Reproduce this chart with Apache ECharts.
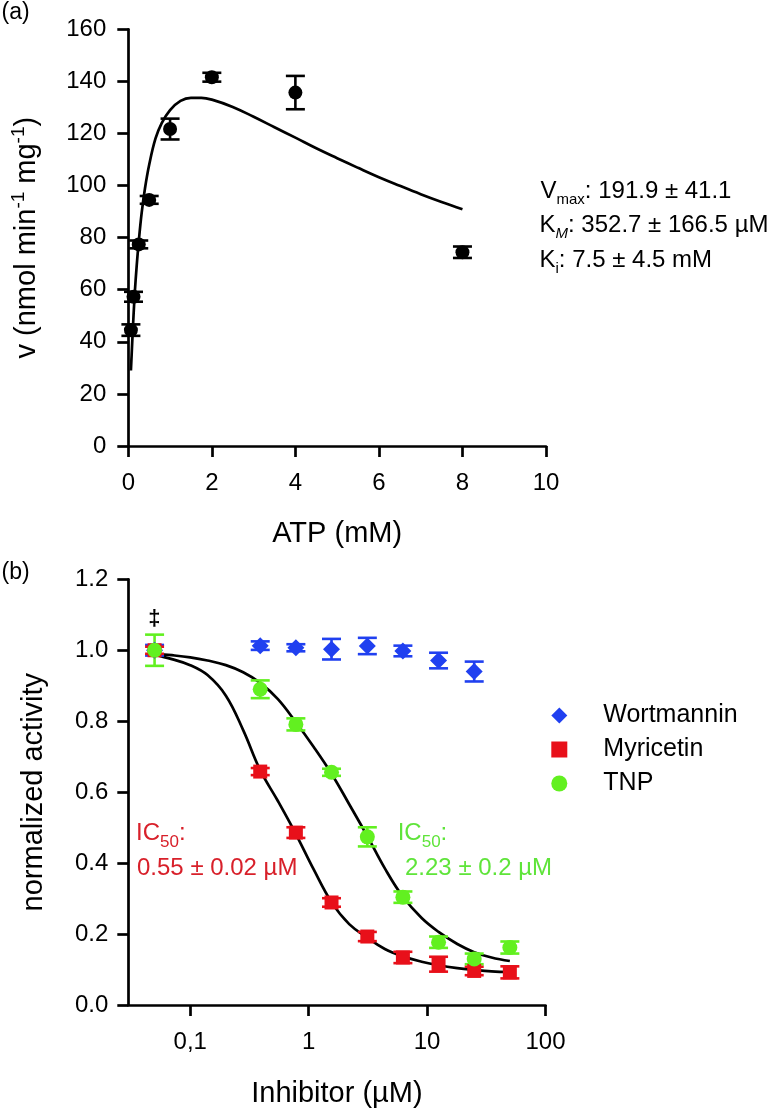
<!DOCTYPE html>
<html><head><meta charset="utf-8">
<script src="https://cdn.jsdelivr.net/npm/echarts@6/dist/echarts.min.js"></script>
<style>html,body{margin:0;padding:0;background:#fff}#c{width:774px;height:1113px}</style>
</head><body><div id="c"></div>
<script>
// ---------- Panel (a): ATP dependence ----------
const atp      = [0.0625, 0.125, 0.25, 0.5, 1, 2, 4, 8];
const rate     = [44.5, 57.3, 77.4, 94.5, 121.7, 141.6, 135.7, 74.4];
const rateErr  = [2.2, 1.9, 1.5, 1.5, 4.0, 1.7, 6.4, 2.2];
const fitAtp   = [0.0625, 0.08, 0.1, 0.125, 0.16, 0.2, 0.25, 0.32, 0.4, 0.5, 0.65, 0.8, 1.0, 1.25, 1.5, 1.75, 2.0, 2.5, 3, 3.5, 4, 4.5, 5, 5.5, 6, 6.5, 7, 7.5, 8];
const fitRate  = [29, 35, 42, 50, 60, 69, 78.5, 89.5, 99, 108, 118, 124, 129, 132.5, 133.7, 133.7, 133, 130.2, 126.4, 122.4, 118.4, 114.3, 110.5, 106.8, 103.2, 99.9, 96.7, 93.7, 90.9];
const xTicksA  = [0, 2, 4, 6, 8, 10];
const yTicksA  = [0, 20, 40, 60, 80, 100, 120, 140, 160];

// ---------- Panel (b): inhibitors ----------
const inhibitor   = [0.05, 0.39, 0.78, 1.56, 3.13, 6.25, 12.5, 25, 50];
const wortmannin  = [1.0, 1.013, 1.007, 1.003, 1.012, 0.998, 0.971, 0.94];
const wortErr     = [0.015, 0.012, 0.01, 0.029, 0.023, 0.015, 0.022, 0.028];
const myricetin   = [1.0, 0.658, 0.486, 0.289, 0.193, 0.134, 0.115, 0.096, 0.092];
const myrErr      = [0.01, 0.01, 0.015, 0.012, 0.013, 0.016, 0.021, 0.012, 0.017];
const tnp         = [1.0, 0.89, 0.791, 0.656, 0.474, 0.304, 0.177, 0.130, 0.162];
const tnpErr      = [0.044, 0.025, 0.017, 0.01, 0.027, 0.016, 0.016, 0.015, 0.017];
const fitX        = [0.05, 0.07, 0.1, 0.14, 0.2, 0.28, 0.39, 0.55, 0.78, 1.1, 1.56, 2.2, 3.13, 4.4, 6.25, 9, 12.5, 18, 25, 35, 50];
const fitMyr      = [0.987, 0.975, 0.958, 0.93, 0.872, 0.775, 0.662, 0.575, 0.482, 0.383, 0.29, 0.228, 0.19, 0.158, 0.137, 0.122, 0.112, 0.104, 0.099, 0.095, 0.093];
const fitTnp      = [0.99, 0.986, 0.98, 0.971, 0.958, 0.938, 0.908, 0.862, 0.797, 0.728, 0.652, 0.566, 0.476, 0.385, 0.305, 0.245, 0.206, 0.172, 0.149, 0.134, 0.124];
const xTickValsB  = [0.1, 1, 10, 100];
const xTickLabelsB= ['0,1', '1', '10', '100'];
const yTicksB     = [0.0, 0.2, 0.4, 0.6, 0.8, 1.0, 1.2];
const seriesNames = ['Wortmannin', 'Myricetin', 'TNP'];

const FONT = '"Liberation Sans", Arial, Helvetica, sans-serif';
const BLUE = '#2040f0', RED = '#e8101a', GREEN = '#62f020';
const LW = 2.7;
const TICKFS = 24;

function errBar(color, capHalf, lw) {
  return function (params, api) {
    const x = api.value(0), y = api.value(1), e = api.value(2);
    const t = api.coord([x, y + e]), b = api.coord([x, y - e]);
    const st = { stroke: color, lineWidth: lw };
    return { type: 'group', children: [
      { type: 'line', shape: { x1: t[0], y1: t[1], x2: b[0], y2: b[1] }, style: st },
      { type: 'line', shape: { x1: t[0] - capHalf, y1: t[1], x2: t[0] + capHalf, y2: t[1] }, style: st },
      { type: 'line', shape: { x1: b[0] - capHalf, y1: b[1], x2: b[0] + capHalf, y2: b[1] }, style: st }
    ]};
  };
}
const zip = (xs, ys) => ys.map((y, i) => [xs[i], y]);
const zip3 = (xs, ys, es) => ys.map((y, i) => [xs[i], y, es[i]]);

function axisCommon() {
  return {
    axisLine: { show: true, onZero: false, lineStyle: { color: '#000', width: LW } },
    axisTick: { show: true, length: 11, lineStyle: { color: '#000', width: LW } },
    splitLine: { show: false },
    nameLocation: 'middle',
    nameMoveOverlap: false
  };
}

const chart = echarts.init(document.getElementById('c'), null, { renderer: 'canvas' });

const option = {
  backgroundColor: '#fff',
  animation: false,
  textStyle: { fontFamily: FONT, color: '#000' },
  grid: [
    { left: 128.3, top: 29.3, width: 417.7, height: 416.7, outerBoundsMode: 'none', containLabel: false },
    { left: 128.3, top: 579.3, width: 417.2, height: 425.7, outerBoundsMode: 'none', containLabel: false }
  ],
  xAxis: [
    Object.assign(axisCommon(), {
      gridIndex: 0, type: 'value', min: xTicksA[0], max: xTicksA[xTicksA.length - 1], interval: 2,
      axisLabel: { fontSize: TICKFS, color: '#000', margin: 25, fontFamily: FONT },
      name: 'ATP (mM)', nameGap: 73,
      nameTextStyle: { fontSize: 29, color: '#000', fontFamily: FONT }
    }),
    Object.assign(axisCommon(), {
      gridIndex: 1, type: 'log', logBase: 10, min: 0.03, max: 100,
      axisTick: { show: true, length: 11, customValues: xTickValsB, lineStyle: { color: '#000', width: LW } },
      axisLabel: { fontSize: TICKFS, color: '#000', margin: 25, fontFamily: FONT, customValues: xTickValsB,
        formatter: function (v) {
          const i = xTickValsB.findIndex(t => Math.abs(Math.log10(t) - Math.log10(v)) < 1e-6);
          return i >= 0 ? xTickLabelsB[i] : '';
        } },
      name: 'Inhibitor (µM)', nameGap: 74.5,
      nameTextStyle: { fontSize: 29, color: '#000', fontFamily: FONT }
    })
  ],
  yAxis: [
    Object.assign(axisCommon(), {
      gridIndex: 0, type: 'value', min: yTicksA[0], max: yTicksA[yTicksA.length - 1], interval: 20,
      axisLabel: { fontSize: TICKFS, color: '#000', margin: 22, fontFamily: FONT },
      name: '{m|v (nmol min}{p|-1}{m| mg}{p|-1}{m|)}', nameGap: 83,
      nameTextStyle: { fontSize: 29, color: '#000', fontFamily: FONT,
        rich: { m: { fontSize: 29, fontFamily: FONT, color: '#000' },
                p: { fontSize: 19, fontFamily: FONT, color: '#000', padding: [0, 0, 17, 0] } } }
    }),
    Object.assign(axisCommon(), {
      gridIndex: 1, type: 'value', min: yTicksB[0], max: yTicksB[yTicksB.length - 1], interval: 0.2,
      axisLabel: { fontSize: TICKFS, color: '#000', margin: 20, fontFamily: FONT, formatter: v => v.toFixed(1) },
      name: 'normalized activity', nameGap: 80,
      nameTextStyle: { fontSize: 29, color: '#000', fontFamily: FONT }
    })
  ],
  legend: {
    orient: 'vertical', left: 551.3, top: 703, padding: 0,
    itemWidth: 16, itemHeight: 16, itemGap: 9, selectedMode: false,
    data: [
      { name: seriesNames[0], icon: 'diamond' },
      { name: seriesNames[1], icon: 'rect' },
      { name: seriesNames[2], icon: 'circle' }
    ],
    textStyle: { fontSize: 25, fontFamily: FONT, color: '#000', lineHeight: 25, padding: [0, 0, 0, 31] }
  },
  series: [
    // panel a
    { type: 'line', xAxisIndex: 0, yAxisIndex: 0, data: zip(fitAtp, fitRate), showSymbol: false, smooth: 0.4,
      lineStyle: { color: '#000', width: LW }, z: 2, silent: true },
    { type: 'custom', xAxisIndex: 0, yAxisIndex: 0, data: zip3(atp, rate, rateErr), renderItem: errBar('#000', 9.5, 2.6),
      encode: { x: 0, y: 1 }, z: 3, clip: false, silent: true },
    { type: 'scatter', xAxisIndex: 0, yAxisIndex: 0, data: zip(atp, rate), symbol: 'circle', symbolSize: 14,
      itemStyle: { color: '#000', opacity: 1 }, z: 4, silent: true },
    // panel b fits
    { type: 'line', xAxisIndex: 1, yAxisIndex: 1, data: zip(fitX, fitMyr), showSymbol: false, smooth: 0.4,
      lineStyle: { color: '#000', width: LW }, z: 2, silent: true },
    { type: 'line', xAxisIndex: 1, yAxisIndex: 1, data: zip(fitX, fitTnp), showSymbol: false, smooth: 0.4,
      lineStyle: { color: '#000', width: LW }, z: 2, silent: true },
    // error bars
    { type: 'custom', xAxisIndex: 1, yAxisIndex: 1, data: zip3(inhibitor, wortmannin, wortErr), renderItem: errBar(BLUE, 9.5, 2.6),
      encode: { x: 0, y: 1 }, z: 3, clip: false, silent: true },
    { type: 'custom', xAxisIndex: 1, yAxisIndex: 1, data: zip3(inhibitor, myricetin, myrErr), renderItem: errBar(RED, 9.5, 2.6),
      encode: { x: 0, y: 1 }, z: 3, clip: false, silent: true },
    { type: 'custom', xAxisIndex: 1, yAxisIndex: 1, data: zip3(inhibitor, tnp, tnpErr), renderItem: errBar(GREEN, 9.5, 2.6),
      encode: { x: 0, y: 1 }, z: 3, clip: false, silent: true },
    // markers
    { name: seriesNames[0], type: 'scatter', xAxisIndex: 1, yAxisIndex: 1, data: zip(inhibitor, wortmannin),
      symbol: 'diamond', symbolSize: 17, itemStyle: { color: BLUE, opacity: 1 }, z: 4, silent: true },
    { name: seriesNames[1], type: 'scatter', xAxisIndex: 1, yAxisIndex: 1, data: zip(inhibitor, myricetin),
      symbol: 'rect', symbolSize: 14, itemStyle: { color: RED, opacity: 1 }, z: 4, silent: true },
    { name: seriesNames[2], type: 'scatter', xAxisIndex: 1, yAxisIndex: 1, data: zip(inhibitor, tnp),
      symbol: 'circle', symbolSize: 15, itemStyle: { color: GREEN, opacity: 1 }, z: 4, silent: true }
  ],
  graphic: [
    { type: 'text', x: 1.5, y: 12.5, style: { text: '(a)', fontSize: 23, fontFamily: FONT, fill: '#000', verticalAlign: 'middle', textVerticalAlign: 'middle' } },
    { type: 'text', x: 1.5, y: 572.5, style: { text: '(b)', fontSize: 23, fontFamily: FONT, fill: '#000', verticalAlign: 'middle', textVerticalAlign: 'middle' } },
    { type: 'text', x: 540.5, y: 191, style: { text: '{m|V}{s|max}{m|: 191.9 ± 41.1}', fill: '#000', fontSize: 24, fontFamily: FONT,
        verticalAlign: 'middle', textVerticalAlign: 'middle',
        rich: { m: { fontSize: 24, fontFamily: FONT, fill: '#000', color: '#000' }, s: { fontSize: 15, fontFamily: FONT, fill: '#000', color: '#000', padding: [18, 0, 0, 0] } } } },
    { type: 'text', x: 539.5, y: 225.3, style: { text: '{m|K}{s|M}{m|: 352.7 ± 166.5 µM}', fill: '#000', fontSize: 24, fontFamily: FONT,
        verticalAlign: 'middle', textVerticalAlign: 'middle',
        rich: { m: { fontSize: 24, fontFamily: FONT, fill: '#000', color: '#000' }, s: { fontSize: 15, fontStyle: 'italic', fontFamily: FONT, fill: '#000', color: '#000', padding: [18, 0, 0, 0] } } } },
    { type: 'text', x: 539.5, y: 260.3, style: { text: '{m|K}{s|i}{m|: 7.5 ± 4.5 mM}', fill: '#000', fontSize: 24, fontFamily: FONT,
        verticalAlign: 'middle', textVerticalAlign: 'middle',
        rich: { m: { fontSize: 24, fontFamily: FONT, fill: '#000', color: '#000' }, s: { fontSize: 15, fontFamily: FONT, fill: '#000', color: '#000', padding: [18, 0, 0, 0] } } } },
    { type: 'text', x: 136, y: 833.7, style: { text: '{m|IC}{s|50}{m|:}', fill: '#d8202a', fontSize: 24, fontFamily: FONT,
        verticalAlign: 'middle', textVerticalAlign: 'middle',
        rich: { m: { fontSize: 24, fontFamily: FONT, fill: '#d8202a', color: '#d8202a' }, s: { fontSize: 17, fontFamily: FONT, fill: '#d8202a', color: '#d8202a', padding: [18, 0, 0, 0] } } } },
    { type: 'text', x: 137, y: 868.7, style: { text: '0.55 ± 0.02 µM', fill: '#d8202a', fontSize: 24, fontFamily: FONT, verticalAlign: 'middle', textVerticalAlign: 'middle' } },
    { type: 'text', x: 397.7, y: 833.7, style: { text: '{m|IC}{s|50}{m|:}', fill: '#5fe43a', fontSize: 24, fontFamily: FONT,
        verticalAlign: 'middle', textVerticalAlign: 'middle',
        rich: { m: { fontSize: 24, fontFamily: FONT, fill: '#5fe43a', color: '#5fe43a' }, s: { fontSize: 17, fontFamily: FONT, fill: '#5fe43a', color: '#5fe43a', padding: [18, 0, 0, 0] } } } },
    { type: 'text', x: 405, y: 868.7, style: { text: '2.23 ± 0.2 µM', fill: '#5fe43a', fontSize: 24, fontFamily: FONT, verticalAlign: 'middle', textVerticalAlign: 'middle' } },
    { type: 'text', x: 154.3, y: 618.5, style: { text: '‡', fill: '#000', fontSize: 22, fontWeight: 'bold', fontFamily: FONT, align: 'center', textAlign: 'center', verticalAlign: 'middle', textVerticalAlign: 'middle' } }
  ]
};
chart.setOption(option);
</script>
</body></html>
